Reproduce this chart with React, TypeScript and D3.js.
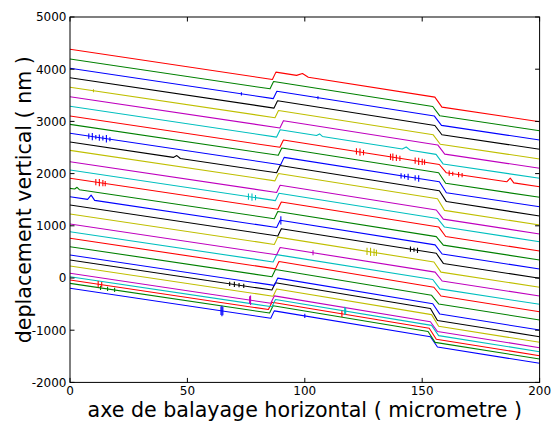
import React from 'react';
import * as d3 from 'd3';

const WIDTH = 553;
const HEIGHT = 422;

const xTicks = [0, 50, 100, 150, 200];
const yTicks = [-2000, -1000, 0, 1000, 2000, 3000, 4000, 5000];
const colorCycle = ['#0000ff', '#008000', '#ff0000', '#00bfbf', '#bf00bf', '#bfbf00', '#000000'];

// one profile per index, 0 = bottom (first plotted) ... 30 = top
const startValues = [-197, -102, -38, 25, 90, 230, 345, 441, 600, 761, 887, 1034, 1226, 1398, 1557, 1718, 1910, 2069, 2228, 2446, 2605, 2772, 2944, 3103, 3289, 3473, 3655, 3837, 4017, 4195, 4381];
const stepUpX = [85.5, 85.0, 84.5, 86.0, 85.5, 86.5, 86.0, 87.0, 86.0, 87.5, 86.5, 88.0, 87.0, 88.5, 88.0, 87.0, 88.5, 87.5, 88.0, 87.3, 88.0, 89.7, 88.7, 89.4, 88.0, 89.4, 87.3, 86.9, 86.6, 85.2, 86.2];
const beforeUp = [-770, -672, -604, -551, -483, -350, -231, -142, 24, 175, 307, 444, 643, 805, 967, 1135, 1317, 1483, 1638, 1861, 2015, 2171, 2350, 2504, 2699, 2874, 3070, 3255, 3437, 3624, 3804];
const afterUp = [-630, -532, -464, -411, -343, -210, -91, -2, 164, 315, 447, 584, 783, 945, 1107, 1275, 1457, 1623, 1778, 2001, 2155, 2311, 2490, 2644, 2839, 3014, 3210, 3395, 3577, 3764, 3944];
const stepDownX = [154.5, 153.5, 154.0, 155.0, 154.5, 155.0, 154.5, 155.5, 155.0, 156.0, 155.5, 156.5, 156.0, 157.0, 156.5, 157.0, 158.0, 157.5, 157.0, 157.5, 158.3, 158.3, 158.0, 158.3, 156.9, 157.6, 155.7, 156.4, 156.2, 155.5, 156.4];
const beforeDown = [-1126, -1024, -963, -907, -839, -702, -583, -494, -332, -177, -29, 112, 307, 473, 635, 793, 978, 1141, 1302, 1517, 1671, 1843, 2017, 2174, 2369, 2549, 2743, 2921, 3102, 3285, 3465];
const afterDown = [-1322, -1234, -1173, -1104, -1024, -924, -813, -691, -497, -345, -209, -57, 113, 279, 460, 630, 795, 976, 1128, 1296, 1464, 1632, 1814, 2015, 2185, 2373, 2563, 2745, 2924, 3107, 3273];
const endValues = [-1634, -1552, -1488, -1412, -1335, -1232, -1124, -996, -805, -646, -504, -345, -178, -6, 172, 345, 517, 695, 843, 1015, 1188, 1366, 1546, 1749, 1910, 2102, 2280, 2466, 2644, 2822, 2994];

// small humps: [profile, xStart, vStart, xPeak, vPeak, xEnd, vEnd]
const bumps = [
  [30, 96.5, 3882, 99, 3919, 101.5, 3846],
  [24, 105, 2729, 106.3, 2760, 107.5, 2712],
  [24, 141.5, 2471, 143.2, 2509, 145, 2446],
  [23, 186, 1843, 187.5, 1913, 189, 1823],
  [20, 44, 2310, 45.5, 2345, 47, 2290],
  [14, 7.5, 1507, 9, 1587, 10.5, 1487],
  [15, 2, 1705, 3, 1738, 4, 1691],
];

// noise spikes: [profile, x, value, half amplitude]
const spikes = [
  [21, 8, 2718, 50], [21, 9.5, 2708, 70], [21, 11, 2698, 40], [21, 12.5, 2688, 60], [21, 14, 2678, 45], [21, 15.5, 2668, 70], [21, 17, 2658, 40],
  [21, 141, 1958, 50], [21, 142.5, 1948, 40], [21, 144, 1937, 60], [21, 147, 1916, 50], [21, 148.5, 1906, 60],
  [23, 122, 2424, 60], [23, 123.5, 2413, 70], [23, 125, 2403, 50],
  [23, 136.5, 2321, 60], [23, 137.5, 2314, 70], [23, 139, 2303, 60], [23, 140.5, 2293, 50],
  [23, 147, 2247, 60], [23, 148.5, 2236, 70], [23, 150, 2226, 60], [23, 151, 2219, 50],
  [23, 161.5, 2007, 50], [23, 163, 1997, 40], [23, 165.5, 1980, 50], [23, 167, 1970, 40],
  [16, 11, 1836, 60], [16, 12.5, 1826, 70], [16, 14, 1816, 60], [16, 15, 1810, 50],
  [12, 126.5, 511, 70], [12, 128, 500, 80], [12, 129.5, 490, 70], [12, 130.5, 483, 60],
  [11, 103.5, 484, 50],
  [13, 145, 552, 50], [13, 146.5, 541, 40], [13, 148, 530, 50],
  [14, 89.8, 1105, 80],
  [17, 76, 1560, 60], [17, 77.5, 1550, 70], [17, 79, 1540, 50],
  [6, 68, -111, 40], [6, 70, -124, 50], [6, 72, -137, 40], [6, 74, -151, 40],
  [0, 64.3, -628, 80], [0, 64.7, -631, 100], [0, 65.1, -634, 80], [0, 100, -727, 40],
  [4, 76.5, -422, 70], [4, 76.9, -426, 90],
  [3, 117, -631, 80], [3, 117.4, -634, 60],
  [2, 115.8, -686, 60], [2, 12, -118, 60], [2, 13.5, -128, 50],
  [1, 13, -189, 40], [1, 16, -209, 40], [1, 19, -229, 40],
  [26, 10, 3588, 30],
  [28, 73, 3528, 30], [28, 105.6, 3453, 30],
];

export default function App() {
  const x = d3.scaleLinear().domain([0, 200]).range([70, 539.6]);
  const y = d3.scaleLinear().domain([-2000, 5000]).range([382.4, 17]);
  const [x0, x1] = x.range();
  const [y0, y1] = y.range();
  const line = d3.line<[number, number]>().x((d) => x(d[0])).y((d) => y(d[1]));

  const series = startValues.map((v0, i) => {
    const pts: [number, number][] = [
      [0, v0],
      [stepUpX[i], beforeUp[i]],
      [stepUpX[i] + 1.5, afterUp[i]],
      [stepDownX[i] - 1, beforeDown[i]],
      [stepDownX[i] + 2, afterDown[i]],
      [200, endValues[i]],
    ];
    bumps.filter((b) => b[0] === i).forEach((b) => {
      pts.push([b[1], b[2]], [b[3], b[4]], [b[5], b[6]]);
    });
    pts.sort((a, b) => a[0] - b[0]);
    return pts;
  });

  const font = 'DejaVu Sans, sans-serif';
  const tickLen = 4.5;

  return (
    <svg width={WIDTH} height={HEIGHT} style={{ position: 'absolute', left: 0, top: 0, background: '#fff' }}>
      <defs>
        <clipPath id="plot">
          <rect x={x0} y={y1} width={x1 - x0} height={y0 - y1} />
        </clipPath>
      </defs>
      <rect x={0} y={0} width={WIDTH} height={HEIGHT} fill="#fff" />
      <g clipPath="url(#plot)">
        {series.map((pts, i) => (
          <path key={i} d={line(pts) || ''} fill="none" stroke={colorCycle[i % 7]} strokeWidth={1.1} strokeLinejoin="round" />
        ))}
        {spikes.map((s, k) => (
          <path key={'s' + k} d={`M${x(s[1])},${y(s[2] + s[3])}L${x(s[1])},${y(s[2] - s[3])}`} stroke={colorCycle[s[0] % 7]} strokeWidth={1.1} />
        ))}
      </g>
      <rect x={x0} y={y1} width={x1 - x0} height={y0 - y1} fill="none" stroke="#000" strokeWidth={1} />
      {xTicks.map((t) => (
        <g key={'xt' + t}>
          <line x1={x(t)} x2={x(t)} y1={y0} y2={y0 - tickLen} stroke="#000" />
          <line x1={x(t)} x2={x(t)} y1={y1} y2={y1 + tickLen} stroke="#000" />
          <text x={x(t)} y={y0 + 13} textAnchor="middle" fontFamily={font} fontSize={12} fill="#000">{t}</text>
        </g>
      ))}
      {yTicks.map((t) => (
        <g key={'yt' + t}>
          <line x1={x0} x2={x0 + tickLen} y1={y(t)} y2={y(t)} stroke="#000" />
          <line x1={x1} x2={x1 - tickLen} y1={y(t)} y2={y(t)} stroke="#000" />
          <text x={x0 - 3.5} y={y(t) + 4.3} textAnchor="end" fontFamily={font} fontSize={12} fill="#000">{String(t)}</text>
        </g>
      ))}
      <text x={(x0 + x1) / 2} y={417} textAnchor="middle" fontFamily={font} fontSize={20.6} fill="#000">axe de balayage horizontal ( micrometre )</text>
      <text transform={`translate(31,${(y0 + y1) / 2}) rotate(-90)`} textAnchor="middle" fontFamily={font} fontSize={20.6} fill="#000">deplacement vertical ( nm )</text>
    </svg>
  );
}
